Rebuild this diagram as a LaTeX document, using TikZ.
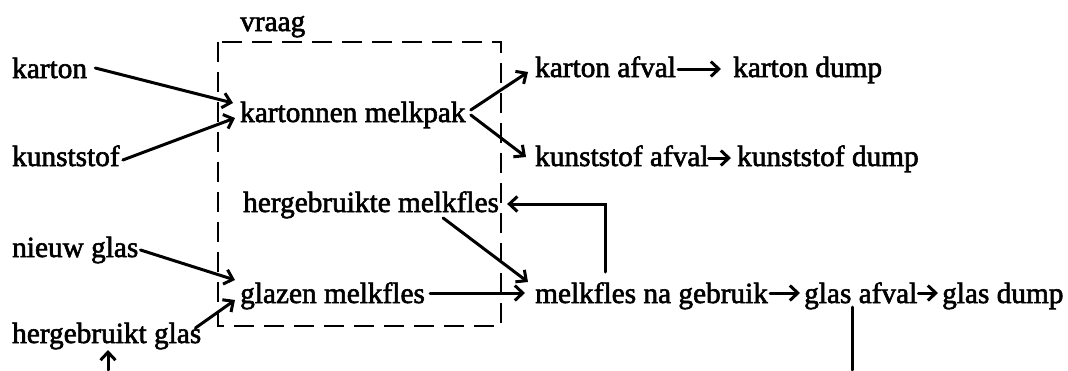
\documentclass[tikz,border=0pt]{standalone}
\usepackage{fontspec}
\setmainfont{Liberation Serif}[FakeBold=2]
\usetikzlibrary{arrows.meta}
\begin{document}
\begin{tikzpicture}[x=1pt,y=-1pt,
  lbl/.style={anchor=base west,inner sep=0pt,font=\fontsize{29.3}{35}\selectfont},
  conn/.style={line width=3pt,line cap=round,-{Straight Barb[length=8pt,width=15pt,line width=3pt]}},
  plain/.style={line width=3pt,line cap=round},
  framebox/.style={line width=2.8pt,dash pattern=on 20pt off 10pt}]
\useasboundingbox (0,0) rectangle (1068,370);
\draw[framebox] (218,42) rectangle (501,326);
\node[lbl] (vraag) at (240,31) {vraag};
\node[lbl] (karton) at (12,78) {karton};
\node[lbl] (kunststof) at (12,166) {kunststof};
\node[lbl] (km) at (240,122) {kartonnen melkpak};
\node[lbl] (ka) at (535,77) {karton afval};
\node[lbl] (kd) at (733,77) {karton dump};
\node[lbl] (kua) at (535,166) {kunststof afval};
\node[lbl] (kud) at (737,166) {kunststof dump};
\node[lbl] (hm) at (243,212) {hergebruikte melkfles};
\node[lbl] (ng) at (12,257) {nieuw glas};
\node[lbl] (gm) at (240,303) {glazen melkfles};
\node[lbl] (mng) at (535,303) {melkfles na gebruik};
\node[lbl] (ga) at (804,303) {glas afval};
\node[lbl] (gd) at (942,303) {glas dump};
\node[lbl] (hg) at (12,343) {hergebruikt glas};
\coordinate (bot1) at (852,370);
\coordinate (bot2) at (108,370);
% inputs to kartonnen melkpak
\draw[conn] ([shift={(8,-10)}]karton.base east) -- ([shift={(-7,-19)}]km.base west);
\draw[conn] ([shift={(3,-6)}]kunststof.base east) -- ([shift={(-5,-4)}]km.base west);
% outputs of kartonnen melkpak
\draw[conn] ([shift={(5,-12)}]km.base east) -- ([shift={(-7,-5)}]ka.base west);
\draw[conn] ([shift={(5,-7)}]km.base east) -- ([shift={(-9,-9)}]kua.base west);
\draw[conn] ([shift={(2,-8)}]ka.base east) -- ([shift={(-12,-8)}]kd.base west);
\draw[conn] ([shift={(0,-8)}]kua.base east) -- ([shift={(-6,-8)}]kud.base west);
% glass
\draw[conn] ([shift={(2,-7)}]ng.base east) -- ([shift={(-5,-23)}]gm.base west);
\draw[conn] ([shift={(-6,-15)}]hg.base east) -- ([shift={(-5,-3)}]gm.base west);
\draw[conn] ([shift={(5,-10)}]gm.base east) -- ([shift={(-10,-10)}]mng.base west);
\draw[conn] ([shift={(-56,6)}]hm.base east) -- ([shift={(-7,-21)}]mng.base west);
\draw[conn] ([shift={(70,-31)}]mng.base west) |- ([shift={(8,-8)}]hm.base east);
\draw[conn] ([shift={(2,-10)}]mng.base east) -- ([shift={(-4,-10)}]ga.base west);
\draw[conn] ([shift={(1,-10)}]ga.base east) -- ([shift={(-4,-10)}]gd.base west);
\draw[plain] ([shift={(48,4)}]ga.base west) -- (bot1);
\draw[conn] (bot2) -- ([shift={(96,7)}]hg.base west);
\end{tikzpicture}
\end{document}
